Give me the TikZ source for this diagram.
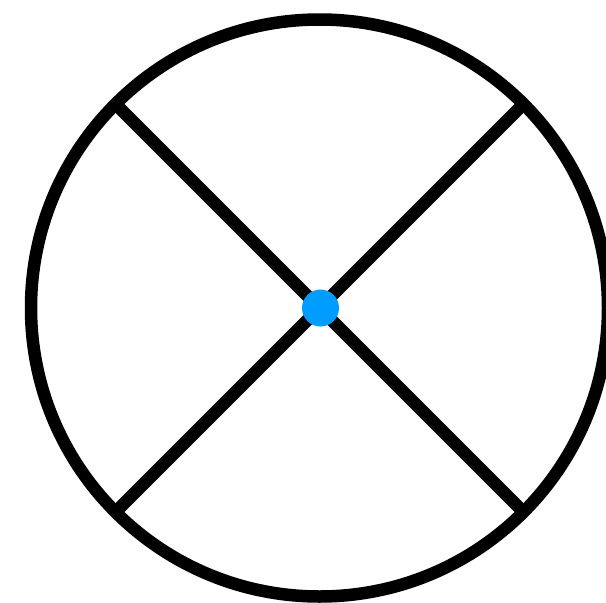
\documentclass[tikz,border=0pt]{standalone}
\definecolor{dotblue}{HTML}{009CFF}
\begin{document}
\begin{tikzpicture}[x=1pt,y=-1pt,
  ring/.style={draw=black,line width=12.5pt},
  spoke/.style={draw=black,line width=12.5pt},
  hub/.style={circle,fill=dotblue,minimum size=37pt,inner sep=0pt}]
\useasboundingbox (0,0) rectangle (606,603);
\coordinate (c) at (319.5,308);
\coordinate (nw) at (115.5,104);
\coordinate (ne) at (523.5,104);
\coordinate (sw) at (115.5,512);
\coordinate (se) at (523.5,512);
\draw[ring] (c) circle (288.5pt);
\draw[spoke] (nw) -- (se);
\draw[spoke] (ne) -- (sw);
\node[hub] (h) at (320.5,308) {};
\end{tikzpicture}
\end{document}
